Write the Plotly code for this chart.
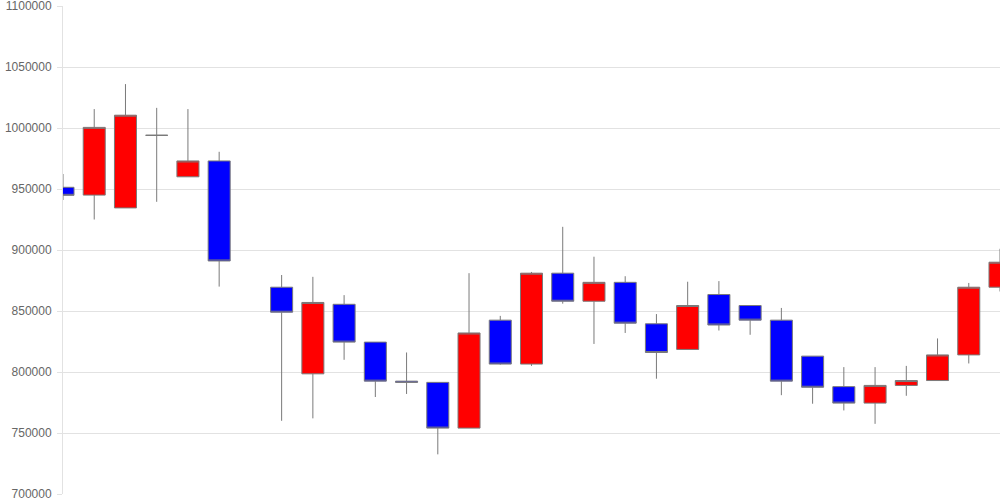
import plotly.graph_objects as go

x_index = [0, 1, 2, 3, 4, 5, 7, 8, 9, 10, 11, 12, 13, 14, 15, 16, 17, 18, 19, 20,
           21, 22, 23, 24, 25, 26, 27, 28, 29, 30]
open_p = [951400, 945000, 934500, 994000, 960000, 973000, 869500, 798500, 855500, 824500,
          792500, 791500, 754000, 842500, 806500, 881000, 858000, 873500, 839500, 818500,
          863500, 854500, 842500, 813000, 788000, 774500, 789000, 793000, 814000, 869500]
high_p = [962300, 1015500, 1036000, 1016500, 1015500, 980500, 879500, 878000, 863000, 824500,
          816000, 791500, 881000, 846000, 882000, 919000, 894500, 878500, 847500, 874000,
          874500, 854500, 852500, 813000, 804000, 804000, 805000, 827500, 873000, 901000]
low_p = [941000, 925000, 934500, 939500, 960000, 870000, 760000, 762000, 810000, 779500,
         782000, 732500, 754000, 806000, 805000, 856000, 823000, 832000, 794500, 818500,
         834000, 830500, 781000, 774000, 768500, 757500, 780500, 793000, 807000, 866000]
close_p = [944800, 1000500, 1010500, 994000, 973000, 891000, 849000, 857000, 824500, 792500,
           791500, 754000, 832000, 806500, 881000, 858000, 873500, 840000, 816000, 854500,
           838500, 842500, 792500, 787500, 774500, 789000, 793000, 814000, 869500, 890000]
y_ticks = [700000, 750000, 800000, 850000, 900000, 950000, 1000000, 1050000, 1100000]

fig = go.Figure(go.Candlestick(
    x=x_index, open=open_p, high=high_p, low=low_p, close=close_p,
    increasing=dict(fillcolor="#ff0000", line=dict(color="#7a7a7a", width=1)),
    decreasing=dict(fillcolor="#0000ff", line=dict(color="#7a7a7a", width=1)),
    whiskerwidth=0,
    showlegend=False,
))

fig.update_layout(
    width=1000, height=500,
    margin=dict(l=63, r=0, t=6, b=6, autoexpand=False),
    paper_bgcolor="white", plot_bgcolor="white",
    font=dict(family="Liberation Sans, Arial, sans-serif", size=12, color="#666666"),
    boxgap=0.295, boxgroupgap=0,
    xaxis=dict(range=[0, 30], showgrid=False, zeroline=False, showticklabels=False,
               ticks="", showline=False, automargin=False,
               rangeslider=dict(visible=False)),
    yaxis=dict(range=[700000, 1100000], tickvals=y_ticks,
               ticktext=[str(v) for v in y_ticks],
               showgrid=True, gridcolor="#e2e2e2", gridwidth=1,
               zeroline=False, showline=True, linecolor="#e2e2e2", linewidth=1,
               ticks="outside", ticklen=5, tickcolor="#e2e2e2",
               ticklabelstandoff=3,
               automargin=False, ticklabeloverflow="allow",
               tickfont=dict(size=12, color="#666666")),
)

fig.write_html(
    "out.html",
    config={"displayModeBar": False},
    post_script="document.body.style.margin='0';document.body.style.overflow='hidden';",
)
